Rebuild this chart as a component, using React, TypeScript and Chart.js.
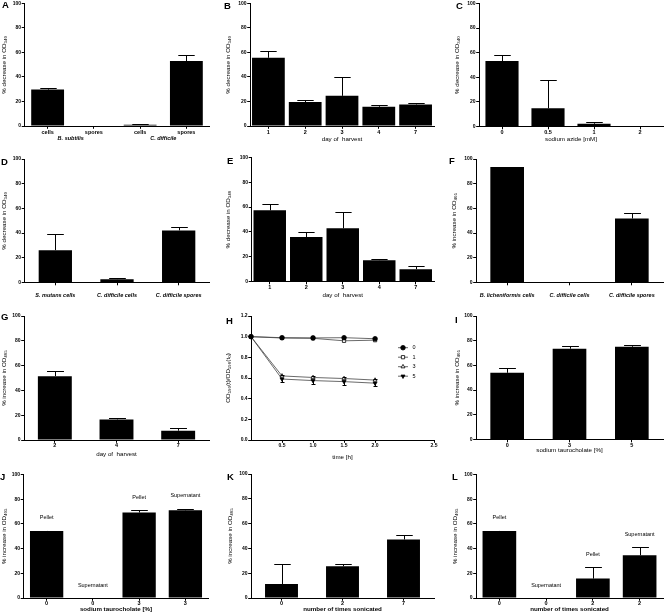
import React, { useEffect, useRef } from "react";
import { Chart, registerables, LinearScale } from "chart.js";
import { drawPoint } from "chart.js/helpers";

// ---------------- DATA ----------------
const A_CATEGORIES = ["cells", "spores", "cells", "spores"];
const A_GROUPS = ["B. subtilis", "C. difficile"];
const A_VALUES = [29.7, 0, 1.1, 53];
const A_ERRORS = [1.3, 0, 0.8, 5.1];

const B_DAYS = ["1", "2", "3", "4", "7"];
const B_VALUES = [55.7, 19.5, 24.6, 15.7, 17.6];
const B_ERRORS = [5.3, 1.5, 15.1, 1.1, 0.8];

const C_AZIDE = ["0", "0.5", "1", "2"];
const C_VALUES = [53.2, 14.8, 2.2, 0];
const C_ERRORS = [5.1, 23.4, 1.3, 0];

const D_CATEGORIES = ["S. mutans cells", "C. difficile cells", "C. difficile spores"];
const D_VALUES = [26.2, 2.7, 42.2];
const D_ERRORS = [13, 1.3, 2.7];

const E_DAYS = ["1", "2", "3", "4", "7"];
const E_VALUES = [57.4, 35.9, 42.9, 17.2, 9.9];
const E_ERRORS = [5.1, 4.1, 12.9, 1, 2.4];

const F_CATEGORIES = ["B. licheniformis cells", "C. difficile cells", "C. difficile spores"];
const F_VALUES = [93.5, 0, 51.8];
const F_ERRORS = [0, 0, 4.8];

const G_DAYS = ["2", "4", "7"];
const G_VALUES = [51.5, 16.6, 7.5];
const G_ERRORS = [4.3, 1.4, 1.9];

const H_TIME = [0, 0.5, 1, 1.5, 2];
const H_X_TICKS = [0.5, 1, 1.5, 2, 2.5];
const H_SERIES_LABELS = ["0", "1", "3", "5"];
const H_S0 = [1, 0.99, 0.988, 0.99, 0.98];
const H_S1 = [1, 0.987, 0.984, 0.96, 0.966];
const H_S3 = [1, 0.62, 0.605, 0.595, 0.58];
const H_S5 = [1, 0.59, 0.575, 0.565, 0.55];
const H_S3_ERR_UP = [0, 0.012, 0.012, 0.01, 0.012];
const H_S5_ERR_DOWN = [0, 0.03, 0.035, 0.03, 0.03];

const I_TAURO = ["0", "3", "5"];
const I_VALUES = [54, 73.5, 75.1];
const I_ERRORS = [3.6, 2.4, 1.4];

const J_TAURO = ["0", "0", "3", "3"];
const J_FRACTIONS = ["Pellet", "Supernatant", "Pellet", "Supernatant"];
const J_VALUES = [54.3, 0, 69.2, 71];
const J_ERRORS = [0.3, 0, 1.8, 1.2];

const K_SONIC = ["0", "2", "7"];
const K_VALUES = [11.3, 25.6, 47.2];
const K_ERRORS = [16.2, 2.2, 3.8];

const L_SONIC = ["0", "0", "2", "2"];
const L_FRACTIONS = ["Pellet", "Supernatant", "Pellet", "Supernatant"];
const L_VALUES = [54.3, 0, 15.7, 34.6];
const L_ERRORS = [0.3, 0, 9.2, 6.5];

const Y_DEC_340 = "% decrease in OD\u2083\u2084\u2080";
const Y_INC_405 = "% increase in OD\u2084\u2080\u2085";
const Y_H = "OD\u2085\u2089\u2080(t)/OD\u2085\u2089\u2080(t\u2080)";

// ---------------- SCALE ----------------
const H_BREAK = 2;
const H_BREAK_FRAC = 0.678;

class SegmentedScale extends LinearScale {
  static id = "segmented";
  static defaults = { ticks: { callback: (v: number) => String(v) } };
  getPixelForValue(value: number) {
    const min = (this as any).min;
    const max = (this as any).max;
    let d: number;
    if (value <= H_BREAK) d = ((value - min) / (H_BREAK - min)) * H_BREAK_FRAC;
    else d = H_BREAK_FRAC + ((value - H_BREAK) / (max - H_BREAK)) * (1 - H_BREAK_FRAC);
    return (this as any).getPixelForDecimal(d);
  }
  getValueForPixel(pixel: number) {
    const d = (this as any).getDecimalForPixel(pixel);
    const min = (this as any).min;
    const max = (this as any).max;
    if (d <= H_BREAK_FRAC) return min + (d / H_BREAK_FRAC) * (H_BREAK - min);
    return H_BREAK + ((d - H_BREAK_FRAC) / (1 - H_BREAK_FRAC)) * (max - H_BREAK);
  }
}

Chart.register(...registerables, SegmentedScale as any);

// ---------------- STYLE ----------------
const FAMILY = "'Liberation Sans', Arial, Helvetica, sans-serif";
const LH = 1.15;
const TICK_LEN = 2.8;
const TICK_SIZE = 5;
const XLABEL_SIZE = 5.5;
const TITLE_SIZE = 6.2;

function fnt(size: number, weight = "normal", style = "normal") {
  return { family: FAMILY, size, weight, style, lineHeight: LH } as any;
}

interface PanelDef {
  key: string;
  letter: string;
  letterX: number;
  letterY: number;
  box: [number, number, number, number];
  axisX: number;
  topY: number;
  zeroY: number;
  rightX: number;
  yTitle: string;
  yTitleX: number;
  xTitle?: string;
  xTitleY?: number;
  xTitleBold?: boolean;
  xLabelY: number;
  xLabelItalic?: boolean;
  barPct?: number;
}

// ---------------- PLUGINS ----------------
const errorBarsPlugin = {
  id: "errorBars",
  afterDatasetsDraw(chart: any) {
    const ctx = chart.ctx;
    const yScale = chart.scales.y;
    chart.data.datasets.forEach((ds: any, di: number) => {
      const meta = chart.getDatasetMeta(di);
      const up: number[] = ds.errUp || [];
      const down: number[] = ds.errDown || [];
      meta.data.forEach((el: any, i: number) => {
        const raw = ds.data[i];
        const v = typeof raw === "number" ? raw : raw.y;
        const cap = ds.capWidth != null ? ds.capWidth : el.width ? el.width * 0.5 : 4;
        const x = Math.round(el.x) + 0.5;
        ctx.save();
        ctx.strokeStyle = "#000";
        ctx.lineWidth = 1;
        const parts: [number, number][] = [
          [up[i], 1],
          [down[i], -1],
        ];
        parts.forEach(([e, s]) => {
          if (!e) return;
          const yEnd = Math.round(yScale.getPixelForValue(v + s * e)) + 0.5;
          ctx.beginPath();
          ctx.moveTo(x, el.y);
          ctx.lineTo(x, yEnd);
          ctx.moveTo(x - cap / 2, yEnd);
          ctx.lineTo(x + cap / 2, yEnd);
          ctx.stroke();
        });
        ctx.restore();
      });
    });
  },
};

function makeTextPlugin(p: PanelDef, extra?: (chart: any) => void) {
  return {
    id: "panelText_" + p.key,
    afterDraw(chart: any) {
      const ctx = chart.ctx;
      ctx.save();
      ctx.fillStyle = "#000";
      ctx.font = `bold 9.5px ${FAMILY}`;
      ctx.textBaseline = "top";
      ctx.textAlign = "left";
      ctx.fillText(p.letter, p.letterX - p.box[0], p.letterY - p.box[1]);
      ctx.restore();
      if (extra) extra(chart);
    },
  };
}

function groupLabels(groups: string[], yPage: number, p: PanelDef) {
  return (chart: any) => {
    const ctx = chart.ctx;
    const xs = chart.scales.x;
    ctx.save();
    ctx.fillStyle = "#000";
    ctx.font = `italic bold ${XLABEL_SIZE}px ${FAMILY}`;
    ctx.textAlign = "center";
    ctx.textBaseline = "middle";
    groups.forEach((g, gi) => {
      const x = (xs.getPixelForValue(gi * 2) + xs.getPixelForValue(gi * 2 + 1)) / 2;
      ctx.fillText(g, x, yPage - p.box[1]);
    });
    ctx.restore();
  };
}

function barAnnotations(texts: string[], values: number[], errors: number[]) {
  return (chart: any) => {
    const ctx = chart.ctx;
    const ys = chart.scales.y;
    const meta = chart.getDatasetMeta(0);
    ctx.save();
    ctx.fillStyle = "#000";
    ctx.font = `5.5px ${FAMILY}`;
    ctx.textAlign = "center";
    ctx.textBaseline = "middle";
    texts.forEach((t, i) => {
      const y = ys.getPixelForValue(values[i] + errors[i]) - 13;
      ctx.fillText(t, meta.data[i].x, y);
    });
    ctx.restore();
  };
}

function hLegend(chart: any) {
  const ctx = chart.ctx;
  const area = chart.chartArea;
  const x0 = area.right - 31;
  const y0 = area.top + 31.7;
  chart.data.datasets.forEach((ds: any, i: number) => {
    const y = y0 + i * 9.5;
    ctx.save();
    ctx.strokeStyle = ds.borderColor;
    ctx.lineWidth = 0.8;
    ctx.beginPath();
    ctx.moveTo(x0 - 5, y);
    ctx.lineTo(x0 + 5, y);
    ctx.stroke();
    ctx.fillStyle = ds.pointBackgroundColor;
    ctx.strokeStyle = "#000";
    ctx.lineWidth = 0.8;
    drawPoint(ctx, { pointStyle: ds.pointStyle, rotation: ds.pointRotation || 0, radius: 2.3, borderWidth: 0.8 } as any, x0, y);
    ctx.fillStyle = "#000";
    ctx.font = `5.5px ${FAMILY}`;
    ctx.textAlign = "left";
    ctx.textBaseline = "middle";
    ctx.fillText(ds.label, x0 + 9.5, y);
    ctx.restore();
  });
}

// ---------------- CONFIG BUILDERS ----------------
function axesFor(p: PanelDef) {
  const [left, top, width, height] = p.box;
  const xLabelLh = XLABEL_SIZE * LH;
  const titleLh = TITLE_SIZE * LH;
  const xPad = Math.max(0, p.xLabelY - p.zeroY - TICK_LEN - xLabelLh / 2);
  return {
    padding: { left: 0, top: p.topY - top, right: left + width - p.rightX, bottom: 0 },
    x: {
      grid: { display: true, drawOnChartArea: false, offset: false, tickLength: TICK_LEN, tickColor: "#000", tickWidth: 1 },
      border: { display: true, color: "#000", width: 1 },
      ticks: {
        color: "#000",
        font: fnt(XLABEL_SIZE, "bold", p.xLabelItalic ? "italic" : "normal"),
        padding: xPad,
        maxRotation: 0,
        minRotation: 0,
        autoSkip: false,
      },
      title: p.xTitle
        ? {
            display: true,
            text: p.xTitle,
            color: "#000",
            font: fnt(TITLE_SIZE, p.xTitleBold ? "bold" : "normal"),
            padding: { top: 0, bottom: top + height - (p.xTitleY as number) - titleLh / 2 },
          }
        : { display: false },
      afterFit: (s: any) => {
        s.height = top + height - p.zeroY;
      },
    },
    y: {
      grid: { display: true, drawOnChartArea: false, tickLength: TICK_LEN, tickColor: "#000", tickWidth: 1 },
      border: { display: true, color: "#000", width: 1 },
      ticks: { color: "#000", font: fnt(TICK_SIZE, "bold"), padding: 0.6 },
      title: {
        display: true,
        text: p.yTitle,
        color: "#000",
        font: fnt(TITLE_SIZE),
        padding: { top: p.yTitleX - left - titleLh / 2, bottom: 0 },
      },
      afterFit: (s: any) => {
        s.width = p.axisX - left;
      },
    },
  };
}

function barConfig(p: PanelDef, labels: string[], values: number[], errors: number[], extra?: (c: any) => void) {
  const ax = axesFor(p);
  return {
    type: "bar",
    data: {
      labels,
      datasets: [
        {
          data: values,
          errUp: errors,
          backgroundColor: "#000",
          borderColor: "#000",
          borderWidth: 0,
          barPercentage: p.barPct || 0.7,
          categoryPercentage: 1,
        },
      ],
    },
    options: {
      animation: false,
      responsive: false,
      devicePixelRatio: 1,
      events: [],
      layout: { padding: ax.padding },
      plugins: { legend: { display: false }, tooltip: { enabled: false } },
      scales: {
        x: { type: "category", offset: true, ...ax.x },
        y: { type: "linear", min: 0, max: 100, ...ax.y, ticks: { ...ax.y.ticks, stepSize: 20 } },
      },
    },
    plugins: [errorBarsPlugin, makeTextPlugin(p, extra)],
  };
}

function hConfig(p: PanelDef) {
  const ax = axesFor(p);
  const series = [
    { values: H_S0, style: "circle", fill: "#000", rot: 0, up: [] as number[], down: [] as number[] },
    { values: H_S1, style: "rect", fill: "#fff", rot: 0, up: [], down: [] },
    { values: H_S3, style: "triangle", fill: "#fff", rot: 0, up: H_S3_ERR_UP, down: [] },
    { values: H_S5, style: "triangle", fill: "#000", rot: 180, up: [], down: H_S5_ERR_DOWN },
  ];
  return {
    type: "line",
    data: {
      datasets: series.map((s, i) => ({
        label: H_SERIES_LABELS[i],
        data: H_TIME.map((t, j) => ({ x: t, y: s.values[j] })),
        errUp: s.up,
        errDown: s.down,
        capWidth: 4,
        borderColor: "#444",
        borderWidth: 0.8,
        pointStyle: s.style,
        pointRotation: s.rot,
        pointRadius: 2.3,
        pointBackgroundColor: s.fill,
        pointBorderColor: "#000",
        pointBorderWidth: 0.8,
        tension: 0,
        clip: false,
      })),
    },
    options: {
      animation: false,
      responsive: false,
      devicePixelRatio: 1,
      events: [],
      layout: { padding: ax.padding },
      plugins: { legend: { display: false }, tooltip: { enabled: false } },
      scales: {
        x: {
          type: "segmented",
          min: 0,
          max: 2.5,
          ...ax.x,
          grid: { ...ax.x.grid, offset: false },
          ticks: { ...ax.x.ticks, font: fnt(TICK_SIZE, "bold"), callback: (v: number) => v.toFixed(1) },
          afterBuildTicks: (s: any) => {
            s.ticks = H_X_TICKS.map((v) => ({ value: v }));
          },
        },
        y: {
          type: "linear",
          min: 0,
          max: 1.2,
          ...ax.y,
          ticks: { ...ax.y.ticks, stepSize: 0.2, callback: (v: number) => v.toFixed(1) },
        },
      },
    },
    plugins: [errorBarsPlugin, makeTextPlugin(p, hLegend)],
  };
}

// ---------------- PANELS ----------------
const COL = [0, 221, 442];
const COLW = [221, 221, 222];
const ROW = [0, 150, 305, 462];
const ROWH = [150, 155, 157, 151];

const P: Record<string, PanelDef> = {
  A: { key: "A", letter: "A", letterX: 2, letterY: 1, box: [COL[0], ROW[0], COLW[0], ROWH[0]], axisX: 24.5, topY: 3, zeroY: 126, rightX: 209.5, yTitle: Y_DEC_340, yTitleX: 4.5, xLabelY: 132, barPct: 0.71 },
  B: { key: "B", letter: "B", letterX: 224, letterY: 2, box: [COL[1], ROW[0], COLW[1], ROWH[0]], axisX: 250, topY: 3, zeroY: 126, rightX: 434, yTitle: Y_DEC_340, yTitleX: 228.5, xTitle: "day of  harvest", xTitleY: 139, xLabelY: 132, barPct: 0.89 },
  C: { key: "C", letter: "C", letterX: 456, letterY: 2, box: [COL[2], ROW[0], COLW[2], ROWH[0]], axisX: 479, topY: 3, zeroY: 126.5, rightX: 663, yTitle: Y_DEC_340, yTitleX: 457.5, xTitle: "sodium azide [mM]", xTitleY: 139, xLabelY: 132, barPct: 0.72 },
  D: { key: "D", letter: "D", letterX: 1, letterY: 158, box: [COL[0], ROW[1], COLW[0], ROWH[1]], axisX: 24.5, topY: 159, zeroY: 282.5, rightX: 209.5, yTitle: Y_DEC_340, yTitleX: 4.5, xLabelY: 295.7, xLabelItalic: true, barPct: 0.54 },
  E: { key: "E", letter: "E", letterX: 227, letterY: 157, box: [COL[1], ROW[1], COLW[1], ROWH[1]], axisX: 251.5, topY: 157.5, zeroY: 281.5, rightX: 434, yTitle: Y_DEC_340, yTitleX: 228, xTitle: "day of  harvest", xTitleY: 295.7, xLabelY: 287, barPct: 0.89 },
  F: { key: "F", letter: "F", letterX: 449, letterY: 157, box: [COL[2], ROW[1], COLW[2], ROWH[1]], axisX: 476, topY: 159, zeroY: 282.5, rightX: 663, yTitle: Y_INC_405, yTitleX: 454, xLabelY: 295.7, xLabelItalic: true, barPct: 0.54 },
  G: { key: "G", letter: "G", letterX: 1, letterY: 313, box: [COL[0], ROW[2], COLW[0], ROWH[2]], axisX: 24, topY: 316, zeroY: 440, rightX: 209, yTitle: Y_INC_405, yTitleX: 4.5, xTitle: "day of  harvest", xTitleY: 454.3, xLabelY: 445, barPct: 0.55 },
  H: { key: "H", letter: "H", letterX: 226, letterY: 317, box: [COL[1], ROW[2], COLW[1], ROWH[2]], axisX: 251, topY: 316, zeroY: 440, rightX: 434, yTitle: Y_H, yTitleX: 228, xTitle: "time [h]", xTitleY: 457.5, xLabelY: 444.5 },
  I: { key: "I", letter: "I", letterX: 455, letterY: 316, box: [COL[2], ROW[2], COLW[2], ROWH[2]], axisX: 476, topY: 316, zeroY: 439.5, rightX: 663, yTitle: Y_INC_405, yTitleX: 457, xTitle: "sodium taurocholate [%]", xTitleY: 450.7, xLabelY: 444.3, barPct: 0.54 },
  J: { key: "J", letter: "J", letterX: 0, letterY: 473, box: [COL[0], ROW[3], COLW[0], ROWH[3]], axisX: 23.5, topY: 474.5, zeroY: 598, rightX: 208.5, yTitle: Y_INC_405, yTitleX: 4.5, xTitle: "sodium taurocholate [%]", xTitleY: 609, xTitleBold: true, xLabelY: 603.3, barPct: 0.72 },
  K: { key: "K", letter: "K", letterX: 227, letterY: 473, box: [COL[1], ROW[3], COLW[1], ROWH[3]], axisX: 251, topY: 474, zeroY: 598, rightX: 434, yTitle: Y_INC_405, yTitleX: 230, xTitle: "number of times sonicated", xTitleY: 609, xTitleBold: true, xLabelY: 603.3, barPct: 0.54 },
  L: { key: "L", letter: "L", letterX: 452, letterY: 473, box: [COL[2], ROW[3], COLW[2], ROWH[3]], axisX: 476, topY: 474.5, zeroY: 598, rightX: 663, yTitle: Y_INC_405, yTitleX: 455.5, xTitle: "number of times sonicated", xTitleY: 609, xTitleBold: true, xLabelY: 603.3, barPct: 0.72 },
};

function buildConfigs(): [PanelDef, any][] {
  return [
    [P.A, barConfig(P.A, A_CATEGORIES, A_VALUES, A_ERRORS, groupLabels(A_GROUPS, 138, P.A))],
    [P.B, barConfig(P.B, B_DAYS, B_VALUES, B_ERRORS)],
    [P.C, barConfig(P.C, C_AZIDE, C_VALUES, C_ERRORS)],
    [P.D, barConfig(P.D, D_CATEGORIES, D_VALUES, D_ERRORS)],
    [P.E, barConfig(P.E, E_DAYS, E_VALUES, E_ERRORS)],
    [P.F, barConfig(P.F, F_CATEGORIES, F_VALUES, F_ERRORS)],
    [P.G, barConfig(P.G, G_DAYS, G_VALUES, G_ERRORS)],
    [P.H, hConfig(P.H)],
    [P.I, barConfig(P.I, I_TAURO, I_VALUES, I_ERRORS)],
    [P.J, barConfig(P.J, J_TAURO, J_VALUES, J_ERRORS, barAnnotations(J_FRACTIONS, J_VALUES, J_ERRORS))],
    [P.K, barConfig(P.K, K_SONIC, K_VALUES, K_ERRORS)],
    [P.L, barConfig(P.L, L_SONIC, L_VALUES, L_ERRORS, barAnnotations(L_FRACTIONS, L_VALUES, L_ERRORS))],
  ];
}

function PanelCanvas({ def, config }: { def: PanelDef; config: any }) {
  const ref = useRef<HTMLCanvasElement | null>(null);
  useEffect(() => {
    if (!ref.current) return;
    const chart = new Chart(ref.current, config);
    return () => chart.destroy();
  }, [config]);
  const [left, top, width, height] = def.box;
  return (
    <canvas
      ref={ref}
      width={width}
      height={height}
      style={{ position: "absolute", left, top, width, height }}
    />
  );
}

const CONFIGS = buildConfigs();

export default function App() {
  return (
    <div style={{ position: "absolute", left: 0, top: 0, width: 664, height: 613, background: "#fff", overflow: "hidden" }}>
      {CONFIGS.map(([def, cfg]) => (
        <PanelCanvas key={def.key} def={def} config={cfg} />
      ))}
    </div>
  );
}
